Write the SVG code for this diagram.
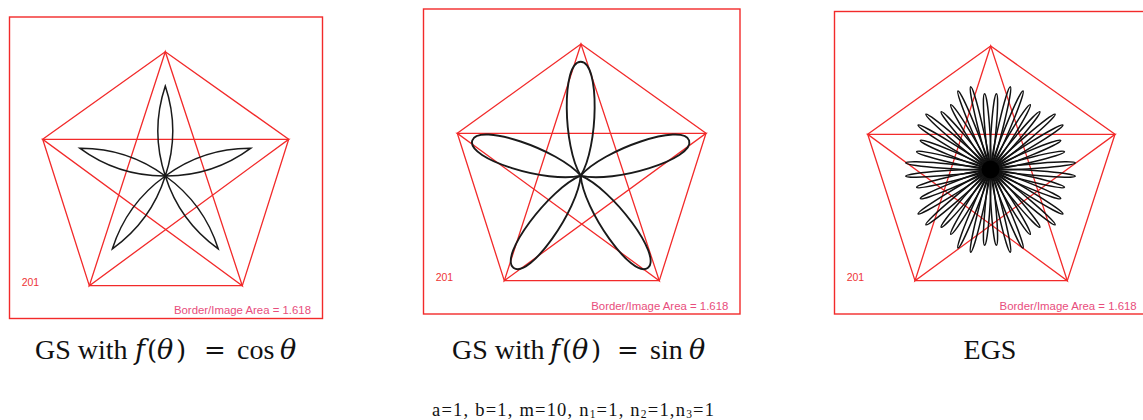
<svg xmlns="http://www.w3.org/2000/svg" xmlns:xlink="http://www.w3.org/1999/xlink" width="1143" height="420" viewBox="0 0 1143 420">
<style>
.frame{fill:none;stroke:#f22a2a;stroke-width:1.4}
.pent{fill:none;stroke:#f22a2a;stroke-width:1.3;stroke-linejoin:miter}
.curve{fill:none;stroke:#1a1a1a;stroke-width:1.5}
.curve3{fill:none;stroke:#111;stroke-width:1.5}
.num{font-family:"Liberation Sans",Arial,sans-serif;font-size:10.5px;fill:#ee3535}
.ratio{font-family:"Liberation Sans",Arial,sans-serif;font-size:11.4px;fill:#e84d7c;text-anchor:end}
.cap{font-family:"Liberation Serif","Times New Roman",serif;font-size:28px;fill:#111}
.m{font-family:"DejaVu Serif",serif;font-size:26px}
.it{font-family:"DejaVu Serif",serif;font-style:italic;font-size:27px}
.params{font-family:"Liberation Serif","Times New Roman",serif;font-size:18.5px;fill:#111}
</style>
<defs>
<path id="petalA" d="M0,0 Q45,-15 90,0 Q45,15 0,0 Z"/>
<path id="petalB" d="M0,0 C28.5,-17.7 114,-19.5 114,0 C114,19.5 28.5,17.7 0,0 Z"/>
<path id="petalS" d="M0,0 C18,-3.1 76,-3.4 76,0 C76,3.4 18,3.1 0,0 Z"/>
<path id="petalL" d="M0,0 C20,-3.1 85,-3.4 85,0 C85,3.4 20,3.1 0,0 Z"/>
</defs>
<rect width="1143" height="420" fill="#ffffff"/>

<g id="panel-cos">
<rect class="frame" x="9.5" y="17" width="313" height="301.5"/>
<polygon class="pent" points="165.3,51.7 288.7,139.3 242.3,285.7 89.3,285.7 42.7,139.3"/>
<polygon class="pent" points="165.3,51.7 89.3,285.7 288.7,139.3 42.7,139.3 242.3,285.7"/>
<g class="curve" transform="translate(165.3,176)">
<use xlink:href="#petalA" transform="rotate(-90)"/>
<use xlink:href="#petalA" transform="rotate(-18)"/>
<use xlink:href="#petalA" transform="rotate(54)"/>
<use xlink:href="#petalA" transform="rotate(126)"/>
<use xlink:href="#petalA" transform="rotate(198)"/>
</g>
<text class="num" x="21.7" y="286">201</text>
<text class="ratio" x="311" y="314">Border/Image Area = 1.618</text>
</g>

<g id="panel-sin">
<rect class="frame" x="423.5" y="9" width="316.5" height="305"/>
<polygon class="pent" points="581,44 706,133.3 659.3,280.7 504.3,280.7 457.3,133.3"/>
<polygon class="pent" points="581,44 504.3,280.7 706,133.3 457.3,133.3 659.3,280.7"/>
<g class="curve" transform="translate(580.7,175.7)" style="stroke-width:1.9">
<use xlink:href="#petalB" transform="rotate(-90)"/>
<use xlink:href="#petalB" transform="rotate(-18)"/>
<use xlink:href="#petalB" transform="rotate(54)"/>
<use xlink:href="#petalB" transform="rotate(126)"/>
<use xlink:href="#petalB" transform="rotate(198)"/>
</g>
<text class="num" x="435.7" y="280.5">201</text>
<text class="ratio" x="728.3" y="309.5">Border/Image Area = 1.618</text>
</g>

<g id="panel-egs">
<rect class="frame" x="834.5" y="11.5" width="320" height="302.5"/>
<polygon class="pent" points="990.7,46 1115,134.3 1067.3,280.7 915,280.7 867.7,134.3"/>
<polygon class="pent" points="990.7,46 915,280.7 1115,134.3 867.7,134.3 1067.3,280.7"/>
<g class="curve3" transform="translate(990.5,169.5)">
<use xlink:href="#petalS" transform="rotate(-85.5)"/>
<use xlink:href="#petalL" transform="rotate(-76.5)"/>
<use xlink:href="#petalL" transform="rotate(-67.5)"/>
<use xlink:href="#petalS" transform="rotate(-58.5)"/>
<use xlink:href="#petalS" transform="rotate(-49.5)"/>
<use xlink:href="#petalL" transform="rotate(-40.5)"/>
<use xlink:href="#petalL" transform="rotate(-31.5)"/>
<use xlink:href="#petalS" transform="rotate(-22.5)"/>
<use xlink:href="#petalS" transform="rotate(-13.5)"/>
<use xlink:href="#petalL" transform="rotate(-4.5)"/>
<use xlink:href="#petalL" transform="rotate(4.5)"/>
<use xlink:href="#petalS" transform="rotate(13.5)"/>
<use xlink:href="#petalS" transform="rotate(22.5)"/>
<use xlink:href="#petalL" transform="rotate(31.5)"/>
<use xlink:href="#petalL" transform="rotate(40.5)"/>
<use xlink:href="#petalS" transform="rotate(49.5)"/>
<use xlink:href="#petalS" transform="rotate(58.5)"/>
<use xlink:href="#petalL" transform="rotate(67.5)"/>
<use xlink:href="#petalL" transform="rotate(76.5)"/>
<use xlink:href="#petalS" transform="rotate(85.5)"/>
<use xlink:href="#petalS" transform="rotate(94.5)"/>
<use xlink:href="#petalL" transform="rotate(103.5)"/>
<use xlink:href="#petalL" transform="rotate(112.5)"/>
<use xlink:href="#petalS" transform="rotate(121.5)"/>
<use xlink:href="#petalS" transform="rotate(130.5)"/>
<use xlink:href="#petalL" transform="rotate(139.5)"/>
<use xlink:href="#petalL" transform="rotate(148.5)"/>
<use xlink:href="#petalS" transform="rotate(157.5)"/>
<use xlink:href="#petalS" transform="rotate(166.5)"/>
<use xlink:href="#petalL" transform="rotate(175.5)"/>
<use xlink:href="#petalL" transform="rotate(184.5)"/>
<use xlink:href="#petalS" transform="rotate(193.5)"/>
<use xlink:href="#petalS" transform="rotate(202.5)"/>
<use xlink:href="#petalL" transform="rotate(211.5)"/>
<use xlink:href="#petalL" transform="rotate(220.5)"/>
<use xlink:href="#petalS" transform="rotate(229.5)"/>
<use xlink:href="#petalS" transform="rotate(238.5)"/>
<use xlink:href="#petalL" transform="rotate(247.5)"/>
<use xlink:href="#petalL" transform="rotate(256.5)"/>
<use xlink:href="#petalS" transform="rotate(265.5)"/>
<circle r="9" fill="#000" stroke="none"/>
</g>
<text class="num" x="846.7" y="281">201</text>
<text class="ratio" x="1136.7" y="310">Border/Image Area = 1.618</text>
</g>

<g id="captions">
<text class="cap" y="359"><tspan x="35">GS with</tspan><tspan x="135" class="it">f</tspan><tspan x="147" class="m">(</tspan><tspan x="157" class="it">θ</tspan><tspan x="176" class="m">)</tspan><tspan x="204" class="m">=</tspan><tspan x="237">cos</tspan><tspan x="280" class="it">θ</tspan></text>
<text class="cap" y="359"><tspan x="452">GS with</tspan><tspan x="550" class="it">f</tspan><tspan x="562" class="m">(</tspan><tspan x="572" class="it">θ</tspan><tspan x="591" class="m">)</tspan><tspan x="617" class="m">=</tspan><tspan x="650">sin</tspan><tspan x="689" class="it">θ</tspan></text>
<text class="cap" x="990" y="359" text-anchor="middle">EGS</text>
<text class="params" x="432" y="415.5" textLength="282" lengthAdjust="spacing">a=1, b=1, m=10, n<tspan font-size="11.5" dy="2">1</tspan><tspan dy="-2">=1, n</tspan><tspan font-size="11.5" dy="2">2</tspan><tspan dy="-2">=1,n</tspan><tspan font-size="11.5" dy="2">3</tspan><tspan dy="-2">=1</tspan></text>
</g>
</svg>
